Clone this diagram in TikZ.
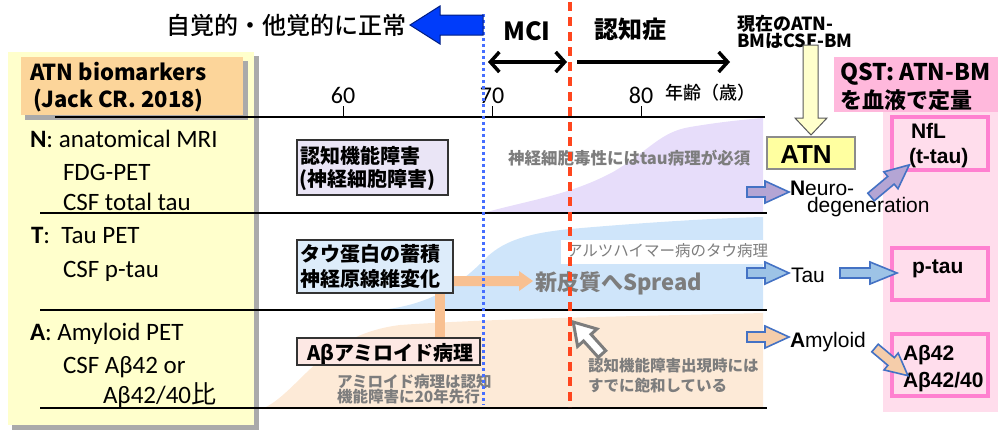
\documentclass[tikz,border=0pt]{standalone}
\usepackage{fontspec}
\setmainfont{Noto Sans CJK JP}
\newfontfamily\jpf{Noto Sans CJK JP}
\newfontfamily\jpm{Noto Sans CJK JP Medium}
\newfontfamily\carl{Carlito}
\newfontfamily\ari{Liberation Sans}
\usetikzlibrary{arrows.meta}
\definecolor{panelY}{RGB}{255,255,204}
\definecolor{headO}{RGB}{252,213,154}
\definecolor{shadowG}{RGB}{170,170,170}
\definecolor{regP}{RGB}{231,221,250}
\definecolor{regB}{RGB}{207,229,250}
\definecolor{regO}{RGB}{253,234,215}
\definecolor{boxP}{RGB}{234,229,246}
\definecolor{boxB}{RGB}{221,236,250}
\definecolor{boxO}{RGB}{253,232,228}
\definecolor{barO}{RGB}{248,192,145}
\definecolor{pinkQ}{RGB}{255,184,220}
\definecolor{pinkC}{RGB}{255,221,236}
\definecolor{pinkB}{RGB}{255,128,208}
\definecolor{atnY}{RGB}{255,255,160}
\definecolor{arrBl}{RGB}{68,114,196}
\definecolor{fillP}{RGB}{180,165,212}
\definecolor{fillB}{RGB}{157,195,230}
\definecolor{fillO}{RGB}{245,205,170}
\definecolor{txtG}{RGB}{125,125,125}
\definecolor{dotB}{RGB}{70,110,255}
\definecolor{dashR}{RGB}{255,70,30}
\definecolor{bigB}{RGB}{0,60,250}
\definecolor{bigBd}{RGB}{0,30,130}
\newcommand\blkarr[5]{\begin{scope}[shift={(#1)},rotate=#2]
\filldraw[#5] (0,-5) -- ({#3-#4},-5) -- ({#3-#4},-11) -- (#3,0) -- ({#3-#4},11) -- ({#3-#4},5) -- (0,5) -- cycle;
\end{scope}}
\tikzset{
  every node/.style={inner sep=0pt, outer sep=0pt},
  barrow/.style={draw=arrBl, line width=1.6pt, line join=miter},
  rowline/.style={line width=1.6pt, black},
  lbl/.style={anchor=base west, font=\carl\fontsize{25}{30}\selectfont},
  boxtxt/.style={anchor=base west, font=\bfseries\fontsize{20}{24}\selectfont},
  graytxt/.style={anchor=base west, text=txtG, font=\bfseries\fontsize{15.5}{18}\selectfont},
  rtxt/.style={anchor=base west, font=\ari\fontsize{21}{24}\selectfont},
  rbold/.style={anchor=base west, font=\ari\bfseries\fontsize{21}{24}\selectfont},
  chev/.style={line width=3.5pt},
}
\begin{document}
\begin{tikzpicture}[x=1pt,y=-1pt]
\useasboundingbox (0,0) rectangle (998,432);
% left panel
\fill[shadowG] (12,56) rectangle (259,430);
\fill[panelY] (8,52) rectangle (254,425);
\fill[shadowG] (25,61) rectangle (248,120);
\fill[headO] (21,57) rectangle (243,115);
\node[anchor=base west, font=\bfseries\fontsize{22}{26}\selectfont] (h1) at (30,80) {ATN biomarkers};
\node[anchor=base west, font=\bfseries\fontsize{22}{26}\selectfont] (h2) at (33,107) {(Jack CR. 2018)};
% regions
\fill[regP] (483,213) .. controls (530,200) and (570,195) .. (613,172) .. controls (650,150) and (660,132) .. (690,127) .. controls (720,122) and (740,120) .. (763,118) -- (763,213) -- cycle;
\fill[regB] (380,310) .. controls (430,305) and (460,285) .. (487,257) .. controls (505,240) and (530,233) .. (570,229) .. controls (650,222) and (720,218) .. (763,217) -- (763,310) -- cycle;
\fill[regO] (262,409) .. controls (300,392) and (320,335) .. (400,325) .. controls (500,318) and (650,316) .. (763,313) -- (763,409) -- cycle;
% QST column
\fill[pinkC] (883,112) rectangle (998,412);
\fill[pinkQ] (834,57) rectangle (998,112);
% axis and row lines
\draw[rowline] (55,117) -- (765,117);
\foreach \xx in {343,492,641} \draw[line width=1pt] (\xx,106) -- (\xx,117);
\draw[rowline] (40,213) -- (767,213);
\draw[rowline] (40,310) -- (767,310);
\draw[rowline] (40,408) -- (767,408);
\node[anchor=base, font=\carl\fontsize{24}{28}\selectfont] (t60) at (343,103) {60};
\node[anchor=base, font=\carl\fontsize{24}{28}\selectfont] (t70) at (492,103) {70};
\node[anchor=base, font=\carl\fontsize{24}{28}\selectfont] (t80) at (641,103) {80};
\node[anchor=base west, font=\jpm\fontsize{18}{20}\selectfont] (age) at (665,99) {年齢（歳）};
% left labels
\node[lbl] (n1) at (30,147) {{\bfseries N}: anatomical MRI};
\node[lbl] (n2) at (63,180) {FDG-PET};
\node[lbl] (n3) at (63,210) {CSF total tau};
\node[lbl] (t1) at (31,243) {{\bfseries T}:\ \ Tau PET};
\node[lbl] (t2) at (63,277) {CSF p-tau};
\node[lbl] (a1) at (30,340) {{\bfseries A}: Amyloid PET};
\node[lbl] (a2) at (63,373) {CSF Aβ42 or};
\node[lbl] (a3) at (103,403) {Aβ42/40{\jpf 比}};
% orange connectors
\fill[barO] (435,293) rectangle (445,338);
\fill[barO] (453,276) -- (519,276) -- (519,271) -- (533,281) -- (519,291) -- (519,286) -- (453,286) -- cycle;
% inner boxes
\draw[fill=boxP, draw=black!80, line width=1.2pt] (297,140) rectangle (448,195);
\node[boxtxt] (b1a) at (300,163) {認知機能障害};
\node[boxtxt] (b1b) at (299,186) {(神経細胞障害)};
\draw[fill=boxB, draw=black!80, line width=1.2pt] (297,240) rectangle (453,293);
\node[boxtxt] (b2a) at (300,261) {タウ蛋白の蓄積};
\node[boxtxt] (b2b) at (300,286) {神経原線維変化};
\draw[fill=boxO, draw=black!80, line width=1.2pt] (297,338) rectangle (480,365);
\node[boxtxt] (b3) at (307,360) {Aβアミロイド病理};
% gray texts
\node[anchor=base west, text=txtG, font=\bfseries\fontsize{16.5}{18}\selectfont] (g1) at (508,164) {神経細胞毒性にはtau病理が必須};
\fill[white] (561,240) rectangle (763,264);
\node[anchor=base west, text=txtG, font=\fontsize{15.5}{18}\selectfont] (g2) at (567,256) {アルツハイマー病のタウ病理};
\node[anchor=base west, text=txtG, font=\bfseries\fontsize{22}{26}\selectfont] (g3) at (535,290) {新皮質へSpread};
\node[graytxt] (g4) at (337,387) {アミロイド病理は認知};
\node[graytxt] (g5) at (337,402) {機能障害に20年先行};
\node[graytxt] (g6) at (588,371) {認知機能障害出現時には};
\node[graytxt] (g7) at (588,391) {すでに飽和している};
% cursor arrow
\coordinate (cur) at (602,354);
\begin{scope}[shift={(cur)},rotate=132]
\filldraw[draw=txtG, fill=white, line width=3pt, line join=miter] (0,-5) -- (22,-5) -- (22,-13) -- (43,0) -- (22,13) -- (22,5) -- (0,5) -- cycle;
\end{scope}
% vertical lines
\draw[dotB, line width=3pt, dash pattern=on 3pt off 3pt] (483,14) -- (483,405);
\draw[dashR, line width=3.5pt, dash pattern=on 9pt off 6pt] (570,2) -- (570,407);
% top
\node[anchor=base east, font=\jpm\fontsize{24}{28}\selectfont] (title) at (406,34) {自覚的・他覚的に正常};
\filldraw[fill=bigB, draw=bigBd, line width=1pt, line join=miter] (410,25) -- (440,6) -- (440,15) -- (483,15) -- (483,35) -- (440,35) -- (440,44) -- cycle;
\node[anchor=base, font=\bfseries\fontsize{25}{28}\selectfont] (mci) at (527,40) {MCI};
\node[anchor=base, font=\bfseries\fontsize{24}{28}\selectfont] (dem) at (630,38) {認知症};
\coordinate (m1) at (488,62);
\coordinate (m2) at (567,62);
\coordinate (m3) at (577,62);
\coordinate (m4) at (730,62);
\draw[chev, {Straight Barb[length=9pt,width=20pt]}-{Straight Barb[length=9pt,width=20pt]}] (m1) -- (m2);
\draw[chev, -{Straight Barb[length=9pt,width=20pt]}] (m3) -- (m4);
\node[anchor=base west, font=\bfseries\fontsize{18}{18}\selectfont] (cur1) at (737,30) {現在のATN-};
\node[anchor=base west, font=\bfseries\fontsize{18}{18}\selectfont] (cur2) at (737,47) {BMはCSF-BM};
\filldraw[fill=panelY, draw=black!65, line width=1pt, line join=miter] (803,45) -- (818,45) -- (818,118) -- (827,118) -- (811,135) -- (795,118) -- (803,118) -- cycle;
\draw[fill=atnY, draw=black!45, line width=2pt] (767,137) rectangle (855,169);
\node[anchor=base, font=\ari\bfseries\fontsize{26}{30}\selectfont] (atn) at (806,163) {ATN};
\node[anchor=base west, font=\bfseries\fontsize{23}{26}\selectfont] (q1) at (840,80) {QST: ATN-BM};
\node[anchor=base west, font=\bfseries\fontsize{22}{26}\selectfont] (q2) at (840,108) {を血液で定量};
% right side
\draw[draw=pinkB, fill=pinkC, line width=4pt] (892,117) rectangle (988,170);
\draw[draw=pinkB, fill=pinkC, line width=4pt] (892,248) rectangle (988,300);
\draw[draw=pinkB, fill=pinkC, line width=4pt] (892,334) rectangle (988,396);
\node[rbold] (nfl1) at (911,138) {NfL};
\node[rbold] (nfl2) at (909,163) {(t-tau)};
\node[rbold] (ptau) at (912,273) {p-tau};
\node[rbold] (ab1) at (903,360) {Aβ42};
\node[rbold] (ab2) at (903,387) {Aβ42/40};
\node[rtxt] (neu1) at (790,195) {{\bfseries N}euro-};
\node[rtxt] (neu2) at (807,212) {degeneration};
\node[rtxt] (tau) at (791,282) {Tau};
\node[rtxt] (amy) at (790,347) {{\bfseries A}myloid};
\coordinate (sN) at (747,192);
\coordinate (sN2) at (871,197);
\coordinate (sT) at (747,273);
\coordinate (sT2) at (840,273);
\coordinate (sA) at (747,337);
\coordinate (sA2) at (875,348);
\blkarr{sN}{0}{42}{24}{barrow, fill=fillP}
\blkarr{sN2}{40}{50}{24}{barrow, fill=fillP}
\blkarr{sT}{0}{42}{24}{barrow, fill=fillB}
\blkarr{sT2}{0}{57}{27}{barrow, fill=fillB}
\blkarr{sA}{0}{42}{24}{barrow, fill=fillO}
\blkarr{sA2}{-40}{43}{22}{barrow, fill=fillO}
\end{tikzpicture}
\end{document}
